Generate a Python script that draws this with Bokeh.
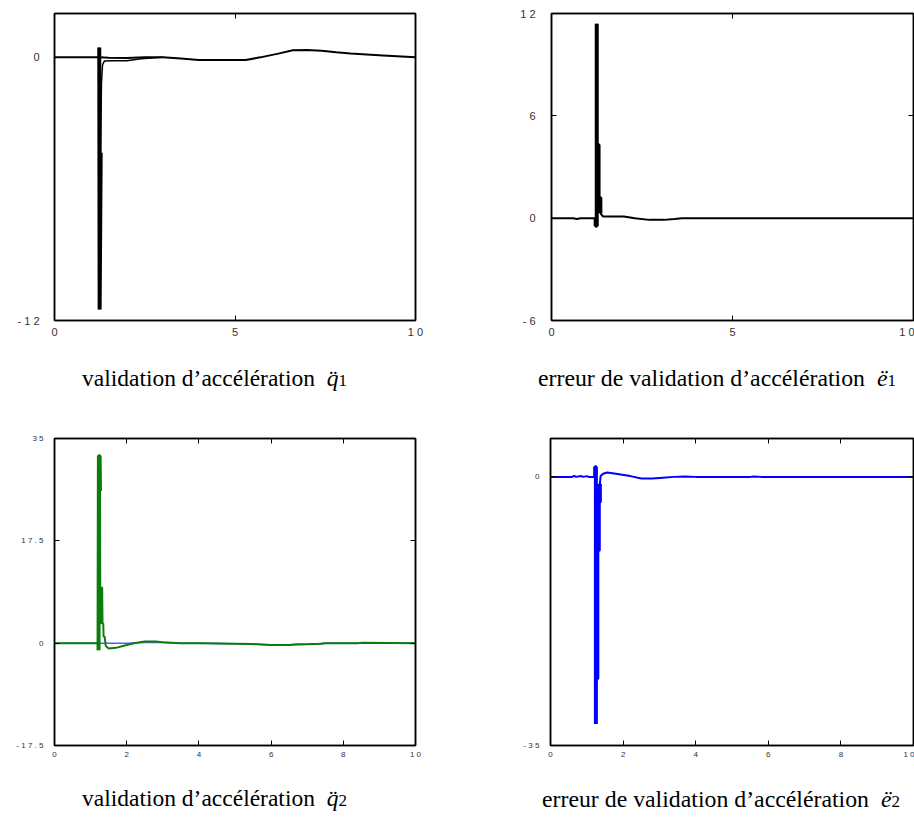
from bokeh.plotting import figure
from bokeh.models import LinearAxis, FixedTicker, Div, Range1d
from bokeh.layouts import column, row
from bokeh.embed import file_html
from bokeh.resources import INLINE

# ---------------- data ----------------
# Panel 1 : validation d'accélération q1
t_q1_ref = [0, 1, 1.25, 1.5, 2, 2.5, 3, 3.5, 4, 4.5, 5, 5.3, 5.7, 6.2, 6.6, 7.0, 7.4, 7.8, 8.2, 9.1, 10]
q1_ref = [0, 0, 0, -0.02, -0.03, 0, 0, -0.05, -0.12, -0.12, -0.12, -0.12, 0, 0.17, 0.32, 0.33, 0.3, 0.23, 0.18, 0.09, 0]
t_q1_est = [1.20, 1.24, 1.24, 1.25, 1.28, 1.30, 1.33, 1.38, 1.6, 2.0, 2.4, 3.0]
q1_est = [0, 0, 0.45, -11.5, -4.35, -1.2, -0.35, -0.17, -0.15, -0.15, -0.06, 0]

# Panel 2 : erreur de validation d'accélération e1
t_e1 = [0, 0.6, 0.7, 0.8, 1.22, 1.22, 1.25, 1.25, 1.25, 1.30, 1.30, 1.35, 1.35, 1.42, 1.6, 2.0, 2.3, 2.7, 3.1, 3.4, 3.6, 10]
e1 = [0, 0, -0.05, 0, 0, -0.45, -0.45, 11.4, 4.3, 4.3, 1.2, 1.2, 0.3, 0.1, 0.1, 0.1, 0, -0.1, -0.1, -0.05, 0, 0]

# Panel 3 : validation d'accélération q2
t_q2_ref = [0, 1, 2, 2.5, 3, 3.5, 4.2, 5, 6, 6.5, 7, 7.5, 10]
q2_ref = [0, 0, 0, 0.1, 0.1, 0, 0, -0.1, -0.3, -0.3, -0.2, 0, 0]
t_q2_est = [0, 1.0, 1.22, 1.22, 1.23, 1.25, 1.26, 1.27, 1.30, 1.31, 1.32, 1.33, 1.35, 1.36, 1.39, 1.42, 1.5, 1.7,
            2.0, 2.2, 2.5, 2.8, 3.0, 3.5, 4.0, 4.5, 5.0, 5.5, 6.0, 6.5, 6.7, 7.0, 7.4, 7.5, 8.4, 8.5, 10]
q2_est = [0, 0, 0, -1.2, 32, 32, 26, 3.4, 3.4, 9.5, 9.5, 3.4, 3.4, 1.1, 1.1, -0.5, -0.9, -0.8,
          -0.3, 0, 0.3, 0.3, 0.15, 0, 0, -0.05, -0.1, -0.15, -0.3, -0.3, -0.2, -0.2, -0.1, 0, 0, 0.05, 0]

# Panel 4 : erreur de validation d'accélération e2
t_e2 = [0, 0.6, 0.65, 0.7, 0.85, 0.9, 1.0, 1.05, 1.23, 1.23, 1.25, 1.25, 1.25, 1.29, 1.29, 1.33, 1.33, 1.36, 1.36,
        1.38, 1.45, 1.56, 1.8, 2.2, 2.5, 2.8, 3.1, 3.4, 3.7, 4.0, 5.5, 5.6, 5.8, 10]
e2 = [0, 0, 0.15, 0, 0.1, 0, 0.1, 0, 0, 1.3, 1.3, -32.2, -26.3, -26.3, -9.6, -9.6, -3.3, -3.3, -0.9,
      0.1, 0.4, 0.56, 0.4, 0.1, -0.2, -0.2, -0.1, 0, 0.05, 0, 0, 0.05, 0, 0]

x_ticks_top = [0, 5, 10]
x_labels_top = ["0", "5", "1 0"]
x_ticks_bot = [0, 2, 4, 6, 8, 10]
x_labels_bot = ["0", "2", "4", "6", "8", "1 0"]
y_ticks_q1, y_labels_q1 = [-12, 0], ["- 1 2", "0"]
y_ticks_e1, y_labels_e1 = [-6, 0, 6, 12], ["- 6", "0", "6", "1 2"]
y_ticks_q2, y_labels_q2 = [-17.5, 0, 17.5, 35], ["- 1 7 . 5", "0", "1 7 . 5", "3 5"]
y_ticks_e2, y_labels_e2 = [-35, 0], ["- 3 5", "0"]

captions = [
    ("validation d\u2019acc\u00e9l\u00e9ration", "q", "1"),
    ("erreur de validation d\u2019acc\u00e9l\u00e9ration", "e", "1"),
    ("validation d\u2019acc\u00e9l\u00e9ration", "q", "2"),
    ("erreur de validation d\u2019acc\u00e9l\u00e9ration", "e", "2"),
]

GREEN = "#0a7d0a"
BLUE = "#0000ff"
LAB_FONT = "Liberation Sans"


def panel(h, yr, xt, xl, yt, yl, mb, fs, ys, xs):
    p = figure(width=457, height=h, x_range=Range1d(0, 10), y_range=Range1d(*yr),
               output_backend="svg", toolbar_location=None,
               min_border_left=mb[0], min_border_right=mb[1],
               min_border_top=mb[2], min_border_bottom=mb[3],
               background_fill_color="white", border_fill_color="white")
    p.grid.visible = False
    p.outline_line_color = "black"
    p.outline_line_width = 1.5
    xa = p.xaxis[0]
    xa.ticker = FixedTicker(ticks=xt)
    xa.major_label_overrides = {k: v for k, v in zip(xt, xl)}
    ya = p.yaxis[0]
    ya.ticker = FixedTicker(ticks=yt)
    ya.major_label_overrides = {k: v for k, v in zip(yt, yl)}
    for a, so in ((xa, xs), (ya, ys)):
        a.major_tick_in = 5
        a.major_tick_out = 0
        a.minor_tick_line_color = None
        a.axis_line_width = 1.5
        a.axis_line_color = "black"
        a.major_tick_line_color = "black"
        a.major_label_text_font = LAB_FONT
        a.major_label_text_font_size = fs
        a.major_label_text_color = "#333333"
        a.major_label_standoff = so
    for loc, ticks in (("above", xt), ("right", yt)):
        ax = LinearAxis(ticker=FixedTicker(ticks=ticks), major_tick_in=5, major_tick_out=0,
                        minor_tick_line_color=None, axis_line_color="black", axis_line_width=1.5,
                        major_label_text_font_size="0px", major_label_standoff=0,
                        major_label_overrides={k: "" for k in ticks})
        p.add_layout(ax, loc)
    return p


def sub(ts, vs, lo, hi):
    idx = [i for i, t in enumerate(ts) if lo <= t <= hi]
    return [ts[i] for i in idx], [vs[i] for i in idx]


# Panel 1
p1 = panel(340, (-12, 2), x_ticks_top, x_labels_top, y_ticks_q1, y_labels_q1,
           (54, 42, 13, 20), "11px", 15, 5)
p1.line(t_q1_ref, q1_ref, line_color="black", line_width=2)
p1.line(t_q1_est, q1_est, line_color="black", line_width=1.5)
tx, vx = sub(t_q1_est, q1_est, 1.24, 1.29)
p1.line(tx, vx, line_color="black", line_width=4)

# Panel 2
p2 = panel(340, (-6, 12), x_ticks_top, x_labels_top, y_ticks_e1, y_labels_e1,
           (94, 1, 13, 20), "11px", 16, 5)
p2.line(t_e1, e1, line_color="black", line_width=2)
tx, vx = sub(t_e1, e1, 1.22, 1.35)
p2.line(tx, vx, line_color="black", line_width=4)

# Panel 3
p3 = panel(340, (-17.5, 35), x_ticks_bot, x_labels_bot, y_ticks_q2, y_labels_q2,
           (54, 42, 7, 25), "8px", 11, 4)
p3.line(t_q2_ref, q2_ref, line_color="#5a5aff", line_width=1.5)
p3.line(t_q2_est, q2_est, line_color=GREEN, line_width=2)
tx, vx = sub(t_q2_est, q2_est, 1.22, 1.26)
p3.line(tx, vx, line_color=GREEN, line_width=4)

# Panel 4
p4 = panel(340, (-35, 5), x_ticks_bot, x_labels_bot, y_ticks_e2, y_labels_e2,
           (93, 1, 8, 25), "8px", 11, 4)
p4.line(t_e2, e2, line_color=BLUE, line_width=2)
tx, vx = sub(t_e2, e2, 1.23, 1.36)
p4.line(tx, vx, line_color=BLUE, line_width=4)


def cap(c, ml, mt, h, fs):
    txt, sym, idx = c
    html = ("<div style=\"margin-left:%dpx;margin-top:%dpx;font-family:'Liberation Serif',serif;"
            "font-size:%spx;line-height:23px;white-space:nowrap;color:#000\">%s&nbsp;&nbsp;"
            "<i>%s&#776;</i><span style=\"font-size:17px\">%s</span></div>" % (ml, mt, fs, txt, sym, idx))
    return Div(text=html, width=457, height=h, margin=(0, 0, 0, 0))


d1 = cap(captions[0], 82, 27, 90, 23.5)
d2 = cap(captions[1], 81, 27, 90, 23.8)
d3 = cap(captions[2], 82, 17, 53, 23.5)
d4 = cap(captions[3], 85, 18, 53, 23.8)

layout = column(row(p1, p2, spacing=0), row(d1, d2, spacing=0),
                row(p3, p4, spacing=0), row(d3, d4, spacing=0), spacing=0)

with open("out.html", "w") as f:
    f.write(file_html(layout, INLINE))
